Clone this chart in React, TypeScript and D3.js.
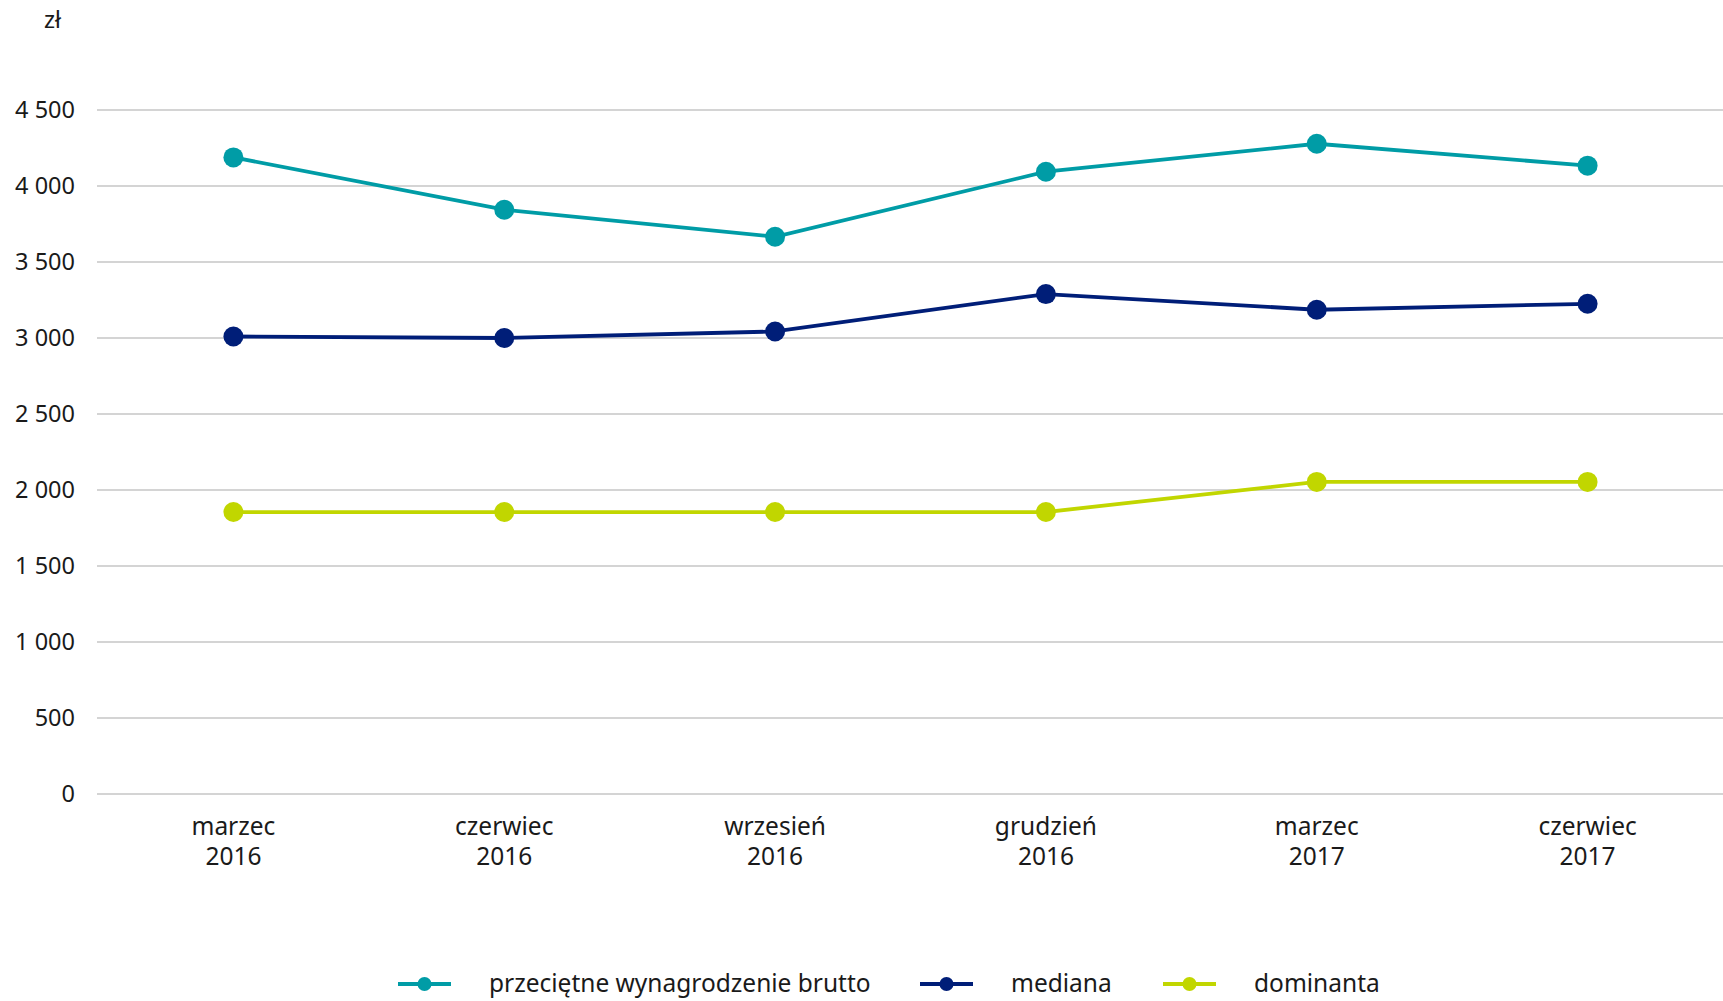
import { useEffect, useRef } from 'react';
import * as d3 from 'd3';

const months = ['marzec', 'czerwiec', 'wrzesień', 'grudzień', 'marzec', 'czerwiec'];
const years = ['2016', '2016', '2016', '2016', '2017', '2017'];
const average = [4188, 3844, 3666, 4094, 4278, 4134];
const median = [3010, 3000, 3043, 3289, 3186, 3225];
const mode = [1855, 1855, 1855, 1855, 2053, 2053];
const yTicks = [0, 500, 1000, 1500, 2000, 2500, 3000, 3500, 4000, 4500];
const seriesNames = ['przeciętne wynagrodzenie brutto', 'mediana', 'dominanta'];

export default function App() {
  const svgRef = useRef<SVGSVGElement>(null);

  useEffect(() => {
    document.body.style.margin = '0';

    const width = 1723;
    const height = 1001;
    const margin = { top: 110, right: 0, bottom: 207, left: 97 };
    const font = '"Noto Sans", sans-serif';
    const colors = ['#009ca6', '#001e78', '#c1d600'];
    const seriesData = [average, median, mode];

    const x = d3
      .scaleBand()
      .domain(d3.range(months.length).map(String))
      .range([margin.left + 1, width - margin.right]);

    const y = d3
      .scaleLinear()
      .domain([0, 4500])
      .range([height - margin.bottom, margin.top]);

    const cx = (i: number) => x(String(i))! + x.bandwidth() / 2;

    const svg = d3.select(svgRef.current);
    svg.selectAll('*').remove();

    // Grid
    svg
      .append('g')
      .selectAll('line')
      .data(yTicks)
      .enter()
      .append('line')
      .attr('x1', margin.left)
      .attr('x2', width - margin.right)
      .attr('y1', d => y(d))
      .attr('y2', d => y(d))
      .attr('stroke', '#c6c6c6')
      .attr('stroke-width', 1.5);

    // Y labels
    svg
      .append('g')
      .selectAll('text')
      .data(yTicks)
      .enter()
      .append('text')
      .attr('x', 75)
      .attr('y', d => y(d))
      .attr('dy', '0.35em')
      .attr('text-anchor', 'end')
      .style('font-family', font)
      .style('font-size', '23.5px')
      .attr('fill', '#1a1a1a')
      .text(d => d3.format(',')(d).replace(/,/g, ' '));

    svg
      .append('text')
      .attr('x', 44)
      .attr('y', 20)
      .attr('dy', '0.35em')
      .style('font-family', font)
      .style('font-size', '23.5px')
      .attr('fill', '#1a1a1a')
      .text('zł');

    // X labels
    const xl = svg
      .append('g')
      .selectAll('text')
      .data(months)
      .enter()
      .append('text')
      .attr('text-anchor', 'middle')
      .style('font-family', font)
      .style('font-size', '24.5px')
      .attr('fill', '#1a1a1a');
    xl.append('tspan')
      .attr('x', (_, i) => cx(i))
      .attr('y', 835)
      .text(d => d);
    xl.append('tspan')
      .attr('x', (_, i) => cx(i))
      .attr('y', 865)
      .text((_, i) => years[i]);

    // Lines
    const line = d3
      .line<number>()
      .x((_, i) => cx(i))
      .y(d => y(d));

    seriesData.forEach((values, s) => {
      const g = svg.append('g');
      g.append('path')
        .datum(values)
        .attr('d', line)
        .attr('fill', 'none')
        .attr('stroke', colors[s])
        .attr('stroke-width', 3.8);
      g.selectAll('circle')
        .data(values)
        .enter()
        .append('circle')
        .attr('cx', (_, i) => cx(i))
        .attr('cy', d => y(d))
        .attr('r', 10)
        .attr('fill', colors[s]);
    });

    // Legend
    const legendX = [398, 920, 1163];
    const legendY = 984;
    seriesNames.forEach((name, s) => {
      const g = svg.append('g').attr('transform', `translate(${legendX[s]},${legendY})`);
      g.append('line')
        .attr('x1', 0)
        .attr('x2', 53)
        .attr('stroke', colors[s])
        .attr('stroke-width', 3.8);
      g.append('circle').attr('cx', 26.5).attr('r', 7).attr('fill', colors[s]);
      g.append('text')
        .attr('x', 91)
        .attr('dy', '0.33em')
        .style('font-family', font)
        .style('font-size', '24.5px')
        .attr('fill', '#1a1a1a')
        .text(name);
    });
  }, []);

  return <svg ref={svgRef} width={1723} height={1001} style={{ display: 'block' }}></svg>;
}
